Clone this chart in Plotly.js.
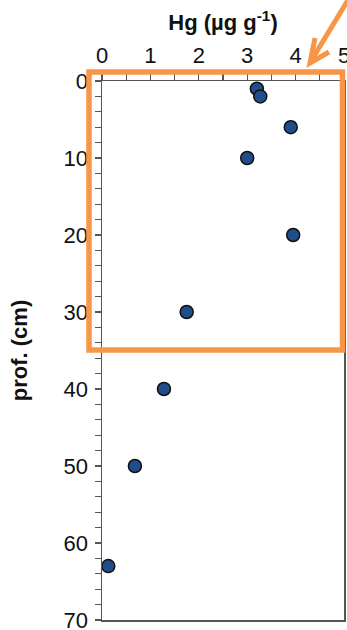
<!DOCTYPE html>
<html>
<head>
<meta charset="utf-8">
<script src="https://cdn.plot.ly/plotly-3.0.1.min.js"></script>
<style>html,body{margin:0;padding:0;background:#fff;}#chart{width:347px;height:630px;}</style>
</head>
<body>
<div id="chart"></div>
<script>
// Data
const hg = [3.2, 3.27, 3.9, 3.0, 3.95, 1.75, 1.28, 0.68, 0.13];
const depth = [1, 2, 6, 10, 20, 30, 40, 50, 63];
const xTickVals = [0, 1, 2, 3, 4, 5];
const yTickVals = [0, 10, 20, 30, 40, 50, 60, 70];

const orange = '#F79646';
const axisCol = '#555555';

const trace = {
  x: hg, y: depth, type: 'scatter', mode: 'markers',
  marker: {size: 13, color: '#1F4E8A', line: {color: '#111111', width: 1.5}},
  cliponaxis: false, hoverinfo: 'skip'
};

const layout = {
  width: 347, height: 630,
  margin: {l: 102, r: 3, t: 81, b: 10, pad: 0},
  paper_bgcolor: '#ffffff', plot_bgcolor: '#ffffff',
  showlegend: false,
  font: {family: 'Liberation Sans, Arial, sans-serif', color: '#111111', size: 22},
  xaxis: {
    side: 'top', range: [0, 5], tickvals: xTickVals, ticktext: xTickVals.map(String),
    ticks: 'outside', ticklen: 6, tickwidth: 1.2, tickcolor: axisCol,
    minor: {dtick: 0.5, ticks: 'outside', ticklen: 6, tickwidth: 1.2, tickcolor: axisCol, showgrid: false},
    showline: true, linecolor: axisCol, linewidth: 1.5, mirror: true,
    showgrid: false, zeroline: false,
    ticklabeloverflow: 'allow',
    ticklabelstandoff: 2,
    tickfont: {size: 22, color: '#111111'},
    title: {text: '<b>Hg (µg g<sup>-1</sup>)</b>', font: {size: 22, color: '#111111'}, standoff: 6}
  },
  yaxis: {
    range: [70, 0], tickvals: yTickVals, ticktext: yTickVals.map(String),
    ticks: 'outside', ticklen: 6, tickwidth: 1.2, tickcolor: axisCol,
    minor: {dtick: 2, ticks: 'outside', ticklen: 6, tickwidth: 1.2, tickcolor: axisCol, showgrid: false},
    showline: true, linecolor: axisCol, linewidth: 1.5, mirror: true,
    showgrid: false, zeroline: false,
    ticklabeloverflow: 'allow',
    ticklabelstandoff: 2,
    tickfont: {size: 22, color: '#111111'},
    title: {text: '<b>prof. (cm)</b>', font: {size: 22, color: '#111111'}, standoff: 30}
  },
  shapes: [
    {type: 'rect', xref: 'paper', yref: 'paper', x0: -0.0537, x1: 0.9938, y0: 0.5009, y1: 1.0167,
     line: {color: orange, width: 5.5}, fillcolor: 'rgba(0,0,0,0)', layer: 'above'},
    {type: 'line', xref: 'paper', yref: 'paper', x0: 0.862, y0: 1.036, x1: 1.03, y1: 1.16,
     line: {color: orange, width: 5}},
    {type: 'path', xref: 'paper', yref: 'paper',
     path: 'M 0.8802 1.0798 L 0.8595 1.0334 L 0.938 1.0538',
     line: {color: orange, width: 5}}
  ]
};

Plotly.newPlot('chart', [trace], layout, {displayModeBar: false, staticPlot: true});
</script>
</body>
</html>
